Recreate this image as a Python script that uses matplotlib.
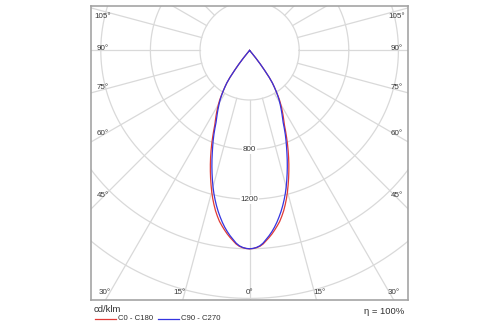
import matplotlib
matplotlib.use("Agg")
import matplotlib.pyplot as plt
import numpy as np

# ---- data (cd/klm), gamma angle in degrees from nadir ----
gamma = list(range(0, 42))
c0_c180 = [1600, 1598, 1592, 1582, 1565, 1540, 1516, 1490, 1461, 1431,
           1400, 1362, 1322, 1277, 1230, 1180, 1128, 1076, 1024, 972,
           920, 868, 816, 764, 714, 665, 630, 598, 566, 534,
           502, 470, 432, 392, 356, 320, 270, 200, 140, 80, 25, 0]
c90_c270 = [1600, 1597, 1590, 1578, 1558, 1530, 1503, 1473, 1440, 1404,
            1365, 1325, 1282, 1237, 1190, 1140, 1088, 1036, 984, 932,
            880, 831, 784, 737, 688, 640, 606, 575, 545, 515,
            487, 458, 425, 392, 356, 320, 270, 200, 140, 80, 25, 0]
ring_values = [400, 800, 1200, 1600, 2000, 2400]
ring_labels = [800, 1200]
side_angles = [105, 90, 75, 60, 45]
bottom_angles = [30, 15, 0]
series_names = ["C0 - C180", "C90 - C270"]
series_colors = ["#e03a36", "#3434e0"]
unit_label = "cd/klm"
eta_label = "\u03b7 = 100%"

W, H = 500, 325
plt.rcParams["font.family"] = ["Liberation Sans", "DejaVu Sans"]
fig = plt.figure(figsize=(W / 100, H / 100), dpi=100)

px = 400 / 49.6          # cd/klm per pixel
cx, cy = 249.6, 50.4     # pole position (image px)
L, R, T, B = 91, 408, 6, 300

ax = fig.add_axes([L / W, 1 - B / H, (R - L) / W, (B - T) / H])
ax.set_xlim((L - cx) * px, (R - cx) * px)
ax.set_ylim(-(B - cy) * px, (cy - T) * px)
ax.set_xticks([])
ax.set_yticks([])
for s in ax.spines.values():
    s.set_color("#a4a4a4")
    s.set_linewidth(1.2)

grid_c = "#d9d9d9"
tt = np.linspace(0, 2 * np.pi, 721)
for r in ring_values:
    ax.plot(r * np.cos(tt), r * np.sin(tt), color=grid_c, lw=0.9, zorder=1)
for a in range(0, 360, 15):
    rad = np.radians(a)
    r0, r1 = ring_values[0], 4000
    ax.plot([r0 * np.sin(rad), r1 * np.sin(rad)], [-r0 * np.cos(rad), -r1 * np.cos(rad)],
            color=grid_c, lw=0.9, zorder=1)

for vals, col in zip([c0_c180, c90_c270], series_colors):
    g = np.array(gamma, dtype=float)
    v = np.array(vals, dtype=float)
    ang = np.radians(np.concatenate([-g[::-1], g[1:]]))
    rr = np.concatenate([v[::-1], v[1:]])
    ax.plot(rr * np.sin(ang), -rr * np.cos(ang), color=col, lw=0.9, zorder=3)

txt_c = "#383838"
for v in ring_labels:
    ax.text(0, -v, str(v), ha="center", va="center", fontsize=5.8, color=txt_c, zorder=2,
            bbox=dict(boxstyle="square,pad=0.1", fc="white", ec="none"))

def img2data(xi, yi):
    return (xi - cx) * px, (cy - yi) * px

# side labels
for a in side_angles:
    rad = np.radians(a)
    dy = 147 / np.tan(rad) - 2
    yi = min(max(cy + dy, T + 10), B - 10)
    for sgn in (-1, 1):
        x, y = img2data(cx + sgn * 147, yi)
        ax.text(x, y, f"{a}\u00b0", ha="center", va="center", fontsize=5.8, color=txt_c, zorder=4)

# bottom labels
for a in bottom_angles:
    rad = np.radians(a)
    dx = 241.6 * np.tan(rad) + (5 if a > 0 else 0)
    dx = min(dx, 147)
    sides = (-1, 1) if a > 0 else (1,)
    for sgn in sides:
        x, y = img2data(cx + sgn * dx, 292)
        ax.text(x, y, f"{a}\u00b0", ha="center", va="center", fontsize=5.8, color=txt_c, zorder=4)

# footer texts
fig.text(94 / W, 1 - 309 / H, unit_label, ha="left", va="center", fontsize=6.8, color="#303030")
fig.text(404 / W, 1 - 311 / H, eta_label, ha="right", va="center", fontsize=6.8, color="#303030")

# legend
leg_x = [(95, 116), (158, 179)]
for (x0, x1), col, name in zip(leg_x, series_colors, series_names):
    fig.add_artist(plt.Line2D([x0 / W, x1 / W], [1 - 318.5 / H, 1 - 318.5 / H], color=col, lw=0.9))
    fig.text((x1 + 2) / W, 1 - 318.5 / H, name, ha="left", va="center", fontsize=5.6, color="#303030")

fig.savefig("out.png", dpi=100)
